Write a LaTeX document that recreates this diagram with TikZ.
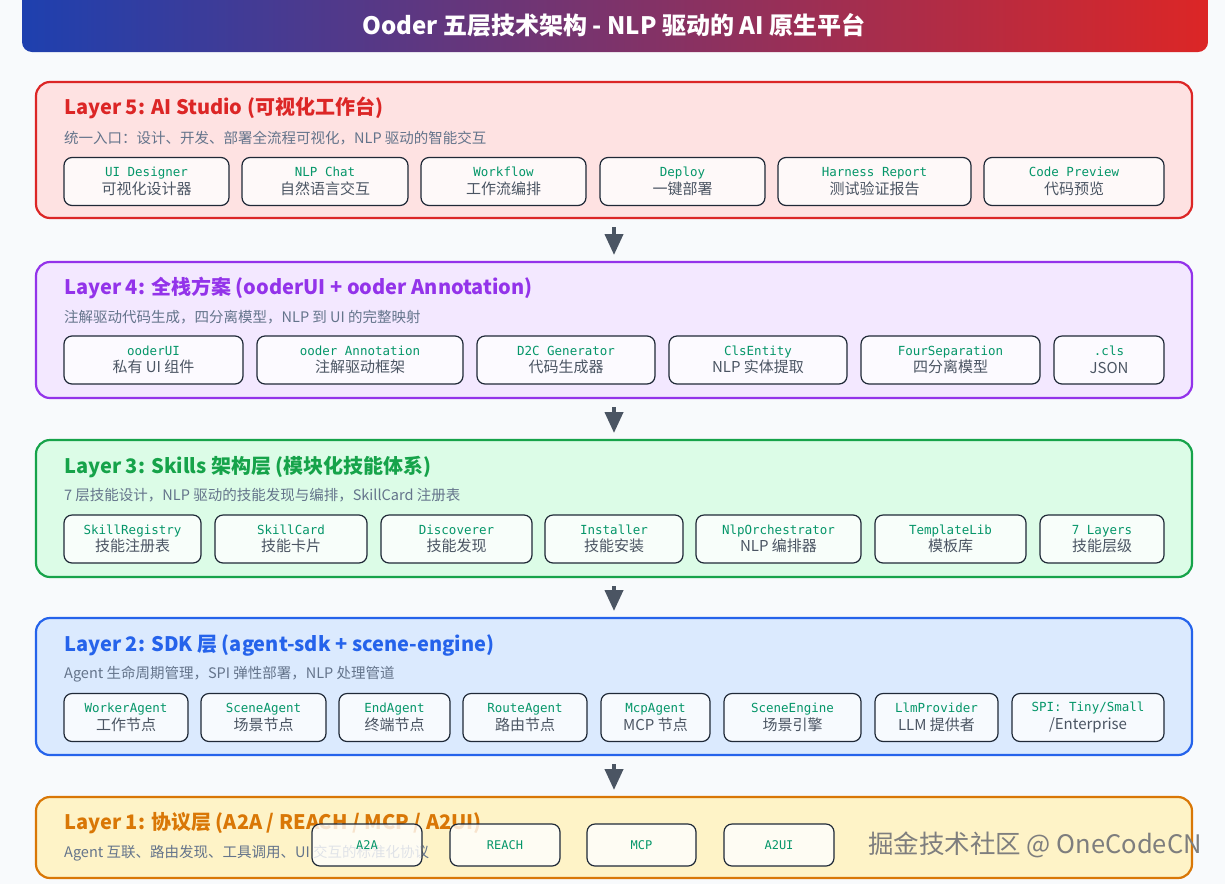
\documentclass[tikz,border=0pt]{standalone}
\usepackage{fontspec}
\setmainfont{Noto Sans CJK SC}
\setmonofont{DejaVu Sans Mono}
\usetikzlibrary{arrows.meta, calc}
\definecolor{pagebg}{HTML}{F8FAFC}
\definecolor{gradA}{HTML}{1E40AF}
\definecolor{gradB}{HTML}{7C3AED}
\definecolor{gradC}{HTML}{DC2626}
\definecolor{lfive}{HTML}{DC2626}
\definecolor{lfivebg}{HTML}{FEE2E2}
\definecolor{lfour}{HTML}{9333EA}
\definecolor{lfourbg}{HTML}{F3E8FF}
\definecolor{lthree}{HTML}{16A34A}
\definecolor{lthreebg}{HTML}{DCFCE7}
\definecolor{ltwo}{HTML}{2563EB}
\definecolor{ltwobg}{HTML}{DBEAFE}
\definecolor{lone}{HTML}{D97706}
\definecolor{lonebg}{HTML}{FEF3C7}
\definecolor{subgray}{HTML}{64748B}
\definecolor{cardline}{HTML}{1F2937}
\definecolor{codegreen}{HTML}{059669}
\definecolor{cardtext}{HTML}{4B5563}
\definecolor{arrowgray}{HTML}{4B5563}
\tikzset{
  banner/.style={minimum width=1186pt, minimum height=66pt, rounded corners=10pt,
                 left color=gradA, middle color=gradB, right color=gradC, inner sep=0pt},
  layer/.style={draw=#1, fill=#1bg, line width=2.2pt, rounded corners=14pt,
                minimum width=1156pt, inner sep=0pt, outer sep=0pt},
  ltitle/.style={anchor=west, text=#1, font=\fontsize{20}{24}\selectfont\bfseries, inner sep=0pt},
  lsub/.style={anchor=west, text=subgray, font=\fontsize{14.5}{17}\selectfont, inner sep=0pt},
  card/.style={draw=cardline, line width=1.2pt, rounded corners=8pt, fill=white,
               fill opacity=0.8, text opacity=1, minimum height=48pt, inner sep=0pt,
               align=center, text=cardtext, font=\fontsize{15}{17.5}\selectfont},
  proto/.style={card, minimum height=42pt, text=codegreen, font=\fontsize{12}{14}\ttfamily},
  flow/.style={-{Triangle[width=18pt,length=21pt]}, line width=4pt, draw=arrowgray,
               shorten <=9pt, shorten >=7pt},
}
\newcommand{\code}[1]{{\fontsize{12.5}{17.5}\ttfamily\color{codegreen}#1}}

\begin{document}
\begin{tikzpicture}[x=1pt, y=-1pt]
  \fill[pagebg] (0,0) rectangle (1225,884);
  \path[use as bounding box] (0,0) rectangle (1225,884);
  \clip (0,0) rectangle (1225,884);

  % title bar
  \node[banner] (banner) at (615,19) {};
  \node[font=\fontsize{24}{28}\selectfont\bfseries, text=white] (title) at (614,25) {Ooder 五层技术架构 - NLP 驱动的 AI 原生平台};

  % layers
  \foreach \n/\cy/\h/\c in {5/150/136/lfive, 4/330/136/lfour, 3/508.5/137/lthree, 2/686.5/137/ltwo, 1/837.5/81/lone}{
    \node[layer=\c, minimum height=\h pt] (L\n) at (614,\cy) {};
  }
  \node[ltitle=lfive] (t5) at ([shift={(28,26)}]L5.north west) {Layer 5: AI Studio (可视化工作台)};
  \node[lsub] (s5) at ([shift={(28,56)}]L5.north west) {统一入口：设计、开发、部署全流程可视化，NLP 驱动的智能交互};
  \node[ltitle=lfour] (t4) at ([shift={(28,26)}]L4.north west) {Layer 4: 全栈方案 (ooderUI + ooder Annotation)};
  \node[lsub] (s4) at ([shift={(28,55)}]L4.north west) {注解驱动代码生成，四分离模型，NLP 到 UI 的完整映射};
  \node[ltitle=lthree] (t3) at ([shift={(28,27)}]L3.north west) {Layer 3: Skills 架构层 (模块化技能体系)};
  \node[lsub] (s3) at ([shift={(28,55)}]L3.north west) {7 层技能设计，NLP 驱动的技能发现与编排，SkillCard 注册表};
  \node[ltitle=ltwo] (t2) at ([shift={(28,27)}]L2.north west) {Layer 2: SDK 层 (agent-sdk + scene-engine)};
  \node[lsub] (s2) at ([shift={(28,56)}]L2.north west) {Agent 生命周期管理，SPI 弹性部署，NLP 处理管道};
  \node[ltitle=lone] (t1) at ([shift={(28,26)}]L1.north west) {Layer 1: 协议层 (A2A / REACH / MCP / A2UI)};
  \node[lsub] (s1) at ([shift={(28,56)}]L1.north west) {Agent 互联、路由发现、工具调用、UI 交互的标准化协议};

  % component cards
  \foreach \a/\b/\t/\s [count=\i] in {64/229/UI Designer/可视化设计器, 242/408/NLP Chat/自然语言交互, 421/586/Workflow/工作流编排, 600/765/Deploy/一键部署, 778/971/Harness Report/测试验证报告, 984/1164/Code Preview/代码预览}
    \node[card, minimum width={\b-\a}] (c5\i) at ({(\a+\b)/2},181.5) {\code{\t}\\\s};
  \foreach \a/\b/\t/\s [count=\i] in {64/243/ooderUI/私有 UI 组件, 257/463/ooder Annotation/注解驱动框架, 477/655/D2C Generator/代码生成器, 669/847/ClsEntity/NLP 实体提取, 861/1040/FourSeparation/四分离模型, 1054/1164/.cls/JSON}
    \node[card, minimum width={\b-\a}] (c4\i) at ({(\a+\b)/2},360) {\code{\t}\\\s};
  \foreach \a/\b/\t/\s [count=\i] in {64/201/SkillRegistry/技能注册表, 215/367/SkillCard/技能卡片, 381/532/Discoverer/技能发现, 545/683/Installer/技能安装, 696/861/NlpOrchestrator/NLP 编排器, 875/1026/TemplateLib/模板库, 1040/1164/7 Layers/技能层级}
    \node[card, minimum width={\b-\a}] (c3\i) at ({(\a+\b)/2},539) {\code{\t}\\\s};
  \foreach \a/\b/\t/\s [count=\i] in {64/188/WorkerAgent/工作节点, 201/326/SceneAgent/场景节点, 339/450/EndAgent/终端节点, 463/587/RouteAgent/路由节点, 601/710/McpAgent/MCP 节点, 724/861/SceneEngine/场景引擎, 875/998/LlmProvider/LLM 提供者, 1012/1164/{SPI: Tiny/Small}/{/Enterprise}}
    \node[card, minimum width={\b-\a}] (c2\i) at ({(\a+\b)/2},717.5) {\code{\t}\\\s};
  \foreach \a/\b/\t [count=\i] in {312/422/A2A, 450/560/REACH, 587/696/MCP, 724/834/A2UI}
    \node[proto, minimum width={\b-\a}] (c1\i) at ({(\a+\b)/2},845) {\t};

  % arrows between layers
  \draw[flow] (L5.south) -- (L4.north);
  \draw[flow] (L4.south) -- (L3.north);
  \draw[flow] (L3.south) -- (L2.north);
  \draw[flow] (L2.south) -- (L1.north);

  \node[font=\fontsize{25.5}{30}\selectfont, text=gray!55!black!70] (mark) at (1035,845) {掘金技术社区 @ OneCodeCN};
\end{tikzpicture}
\end{document}
